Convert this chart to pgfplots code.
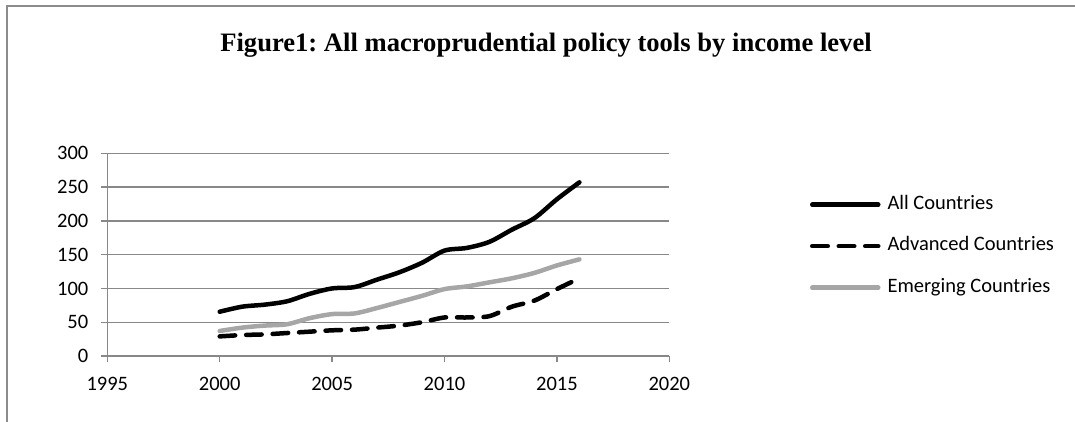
\documentclass[border=0pt]{standalone}
\usepackage{fontspec}
\setmainfont{Carlito}
\newfontfamily\titlefont{Liberation Serif}
\usepackage{pgfplots}
\pgfplotsset{compat=1.18}
\frenchspacing

\definecolor{framegray}{HTML}{8C8C8C}
\definecolor{axisgray}{HTML}{888888}
\definecolor{emerggray}{HTML}{A6A6A6}

% Number of macroprudential policy tools in use, by year
\pgfplotstableread{
year all  adv emerg
2000 65.5 29  37
2001 73   31  42
2002 76   32  45
2003 81   34  47
2004 92   36  56
2005 100  38  62
2006 102  39  63
2007 113  42  71
2008 124  45  80
2009 138  50  89
2010 156  57  99
2011 160  57  103
2012 169  59  109
2013 187  73  115
2014 204  82  123
2015 232  99  134
2016 257  115 143
}\tools

\begin{document}
\begin{tikzpicture}
\useasboundingbox (0,0) rectangle (1075pt,422pt);
% outer chart frame
\draw[framegray, line width=2pt] (7pt,-2pt) -- (7pt,416pt) -- (1077pt,416pt);
% chart title
\node[font=\titlefont\bfseries\fontsize{26.6}{30}\selectfont, anchor=base]
  at (546pt,370.3pt) {Figure1: All macroprudential policy tools by income level};
\begin{axis}[
  at={(107.3pt,66pt)}, anchor=south west,
  scale only axis, width=562pt, height=202.7pt,
  xmin=1995, xmax=2020, ymin=0, ymax=300,
  axis x line*=bottom, axis y line*=left,
  axis line style={draw=axisgray, line width=1.3pt, -},
  xtick={1995,2000,...,2020}, ytick={0,50,...,300},
  ymajorgrids, grid style={axisgray, line width=1.3pt},
  tick align=outside, major tick length=6.5pt,
  tick style={axisgray, line width=1.3pt},
  tick label style={font=\fontsize{20.5}{24}\selectfont, text=black},
  /pgf/number format/assume math mode=true,
  x tick label style={/pgf/number format/1000 sep={}, yshift=-11pt},
  y tick label style={xshift=-9pt},
  legend style={at={(1.25,0.542)}, anchor=west, draw=none, fill=none,
    inner sep=0pt, row sep=22.5pt,
    font=\fontsize{20.5}{24}\selectfont,
    nodes={inner sep=0pt, text height=14pt, text depth=5pt}},
  legend cell align=left,
  legend image code/.code={\draw[#1] (0pt,0pt) -- (66pt,0pt);},
  every axis plot/.append style={line width=4.5pt, line cap=round, line join=round},
]
\addplot[black, smooth] table[x=year, y=all] {\tools};
\addlegendentry{\hspace{7pt}All Countries}
\addplot[black, smooth, dash pattern=on 15.5pt off 11pt] table[x=year, y=adv] {\tools};
\addlegendentry{\hspace{7pt}Advanced Countries}
\addplot[emerggray, smooth] table[x=year, y=emerg] {\tools};
\addlegendentry{\hspace{7pt}Emerging Countries}
\end{axis}
\end{tikzpicture}
\end{document}
